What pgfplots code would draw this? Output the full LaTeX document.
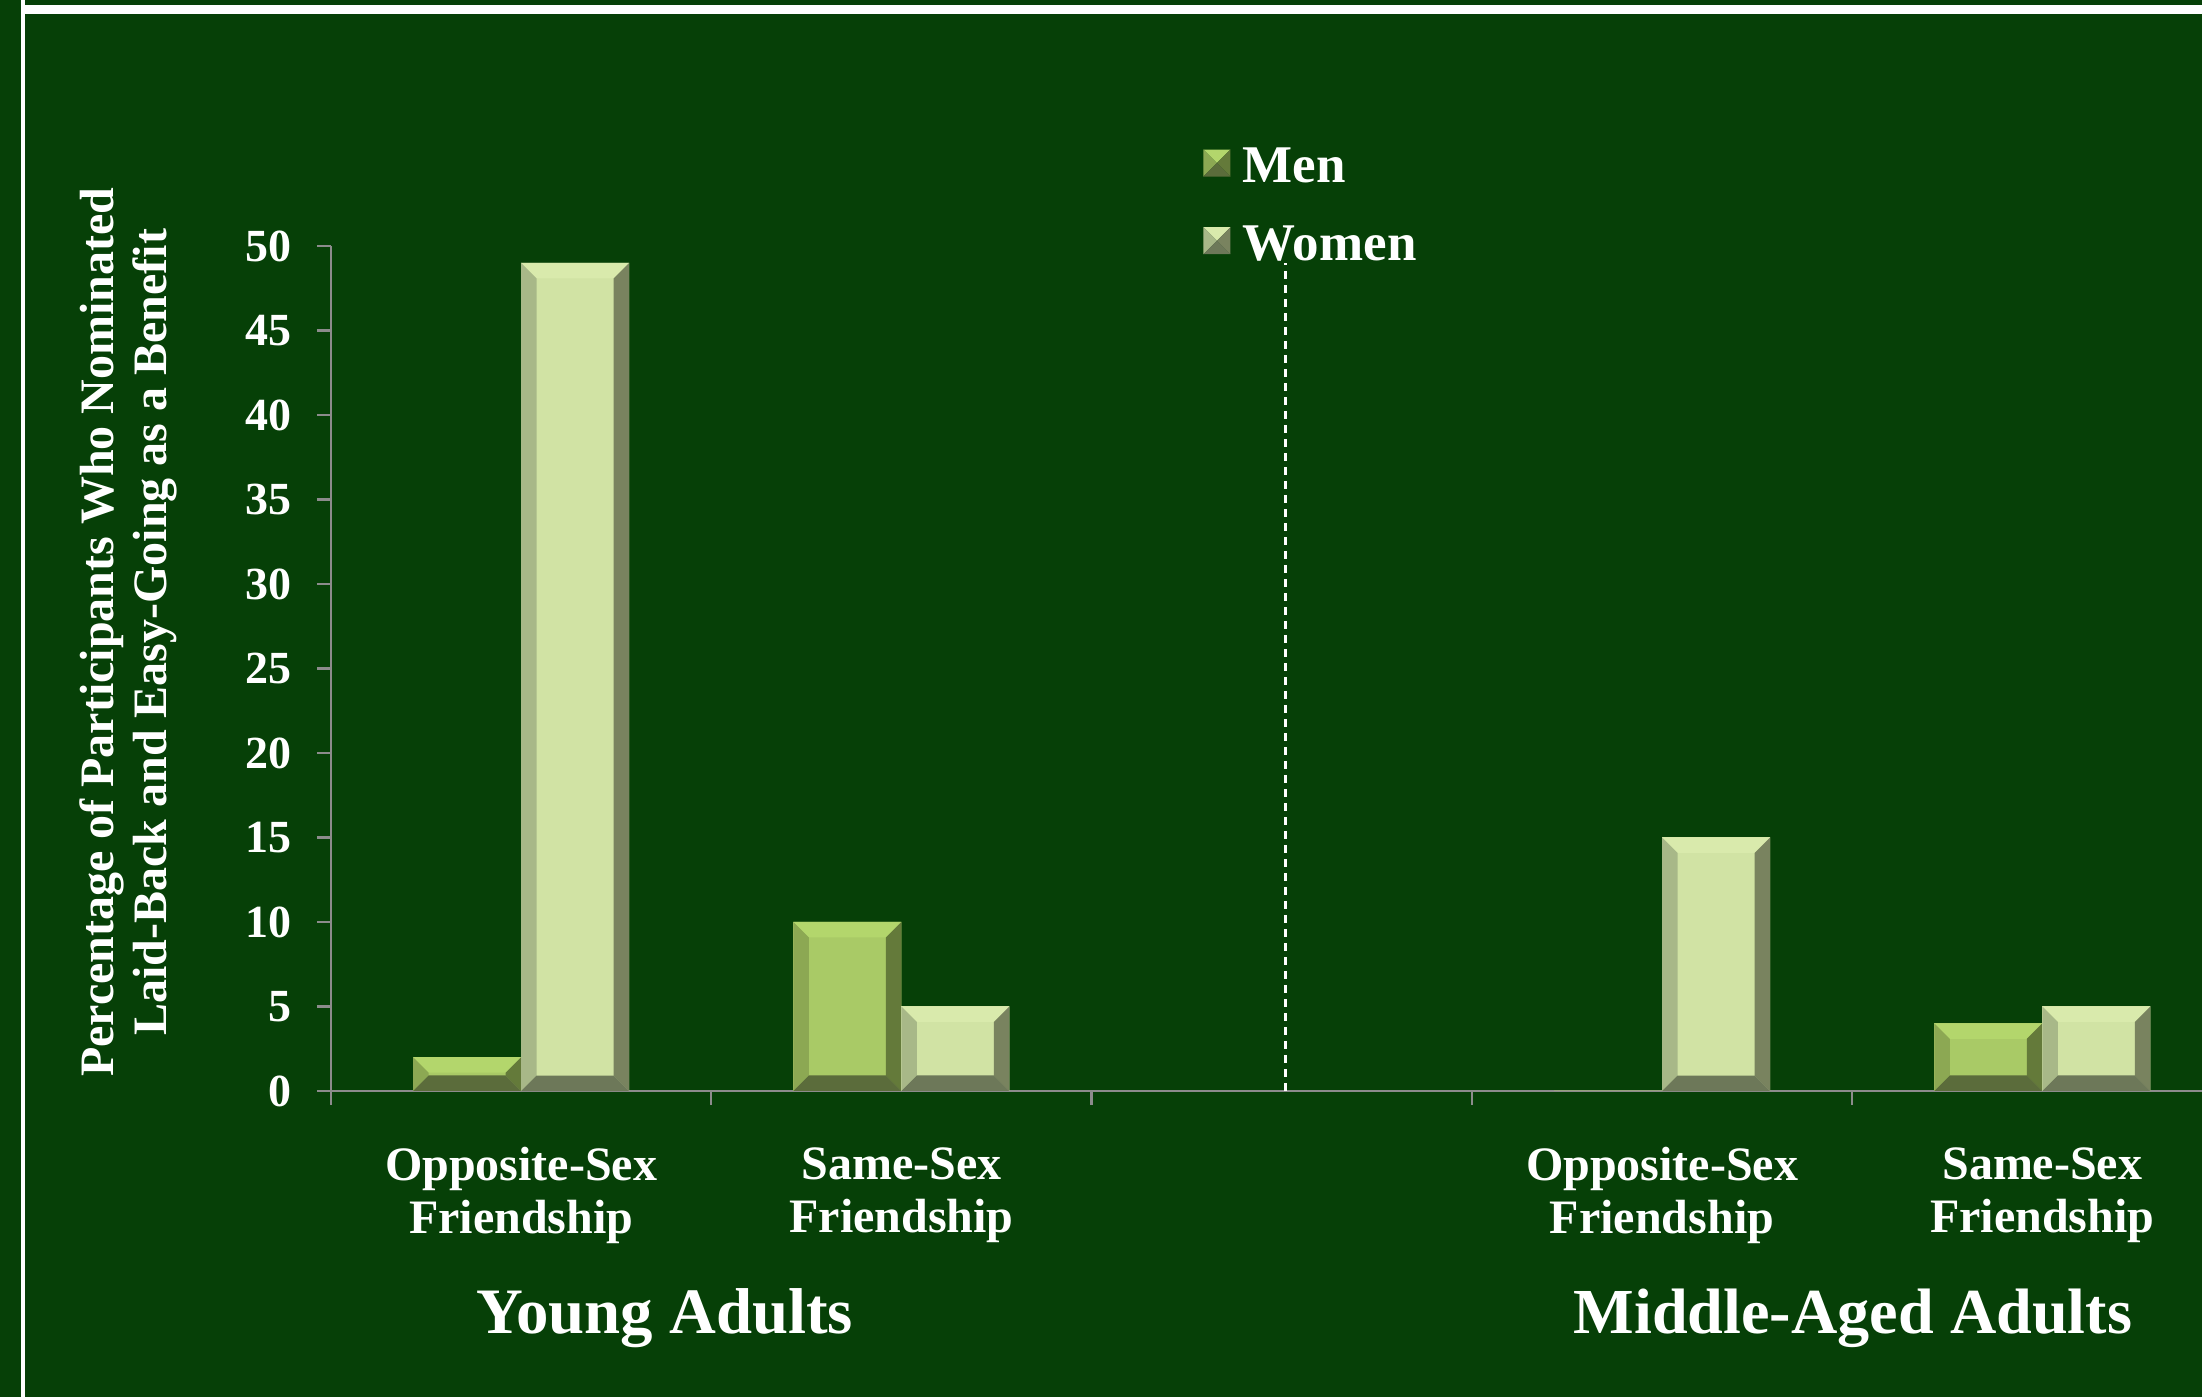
\documentclass[border=0pt]{standalone}
\usepackage{pgfplots}
\pgfplotsset{compat=1.18}
\usepackage{fontspec}
\setmainfont{Liberation Serif}

\definecolor{bg}{RGB}{6,64,7}
\definecolor{axisgray}{RGB}{140,140,140}
\definecolor{menface}{RGB}{169,202,102}
\definecolor{mentop}{RGB}{179,214,108}
\definecolor{menleft}{RGB}{140,168,83}
\definecolor{menright}{RGB}{100,122,58}
\definecolor{menbottom}{RGB}{91,108,59}
\definecolor{womface}{RGB}{209,227,164}
\definecolor{womtop}{RGB}{217,234,172}
\definecolor{womleft}{RGB}{168,184,136}
\definecolor{womright}{RGB}{121,131,95}
\definecolor{wombottom}{RGB}{109,120,89}

% bevelled edges, drawn inside the node that sits over each bar
\newcommand\bevel[4]{%
  \pgfpointanchor{path picture bounding box}{south west}\pgfgetlastxy{\bvxa}{\bvya}%
  \pgfpointanchor{path picture bounding box}{north east}\pgfgetlastxy{\bvxb}{\bvyb}%
  \pgfmathsetlengthmacro{\bv}{min(7.75pt,(\bvyb-\bvya)/2)}%
  \fill[#1] (\bvxa,\bvyb) -- (\bvxb,\bvyb) -- (\bvxb-\bv,\bvyb-\bv) -- (\bvxa+\bv,\bvyb-\bv) -- cycle;
  \fill[#2] (\bvxa,\bvyb) -- (\bvxa+\bv,\bvyb-\bv) -- (\bvxa+\bv,\bvya+\bv) -- (\bvxa,\bvya) -- cycle;
  \fill[#3] (\bvxb,\bvyb) -- (\bvxb-\bv,\bvyb-\bv) -- (\bvxb-\bv,\bvya+\bv) -- (\bvxb,\bvya) -- cycle;
  \fill[#4] (\bvxa,\bvya) -- (\bvxa+\bv,\bvya+\bv) -- (\bvxb-\bv,\bvya+\bv) -- (\bvxb,\bvya) -- cycle;
}
% legend marker: a small square pyramid
\newcommand\pyramid[4]{%
  \begin{scope}[yshift=2pt]
  \fill[#1] (0pt,6.75pt) -- (13.5pt,6.75pt) -- (6.75pt,0pt) -- cycle;
  \fill[#2] (0pt,6.75pt) -- (6.75pt,0pt) -- (0pt,-6.75pt) -- cycle;
  \fill[#3] (13.5pt,6.75pt) -- (6.75pt,0pt) -- (13.5pt,-6.75pt) -- cycle;
  \fill[#4] (0pt,-6.75pt) -- (6.75pt,0pt) -- (13.5pt,-6.75pt) -- cycle;
  \end{scope}
}

\begin{document}
\begin{tikzpicture}
\fill[bg] (0,0) rectangle (1101pt,698.5pt);
\useasboundingbox (0,0) rectangle (1101pt,698.5pt);
\fill[white] (10.35pt,0pt) rectangle (12.65pt,698.5pt);
\fill[white] (10.35pt,691.5pt) rectangle (1101pt,696pt);
\begin{axis}[
    at={(165.5pt,153pt)}, anchor=south west,
    scale only axis, width=935.5pt, height=422.5pt,
    xmin=-0.5, xmax=4.42, ymin=0, ymax=50,
    clip=false,
    axis x line*=bottom, axis y line*=left,
    axis line style={draw=axisgray, line width=1.2pt, -},
    tick style={draw=axisgray, line width=1.2pt},
    tick align=outside, major tick length=7pt,
    xtick={-0.5,0.5,1.5,2.5,3.5}, xticklabels={},
    extra x ticks={0,1,3,4},
    extra x tick labels={{Opposite-Sex\\Friendship},{Same-Sex\\Friendship},{Opposite-Sex\\Friendship},{Same-Sex\\Friendship}},
    extra x tick style={major tick length=0pt,
        tick label style={align=center, text=white, anchor=north, inner sep=0pt, yshift=-28pt,
            font=\bfseries\fontsize{24}{26.5}\selectfont}},
    ytick={0,5,...,50},
    /pgf/number format/assume math mode=true,
    yticklabel style={text=white, xshift=-9pt, font=\bfseries\fontsize{23}{27}\selectfont},
    ylabel={Percentage of Participants Who Nominated\\Laid-Back and Easy-Going as a Benefit},
    every axis y label/.style={at={(rel axis cs:-0.1085,0.543)}, rotate=90, anchor=center,
        align=center, text=white, font=\bfseries\fontsize{24}{26.5}\selectfont},
    legend style={draw=none, fill=none, text=white, inner sep=0pt,
        at={(rel axis cs:0.4661,1.121)}, anchor=north west,
        font=\bfseries\fontsize{26.5}{30}\selectfont,
        row sep=16pt, cells={anchor=west},
        /tikz/every odd column/.append style={column sep=4.2pt}},
  ]
\addplot[ybar, bar width=54pt, bar shift=-27pt, fill=menface, draw=none,
    visualization depends on={y \as \barh},
    nodes near coords={},
    every node near coord/.append style={anchor=north, xshift=-27pt, inner sep=0pt, outer sep=0pt,
        fill=menface, minimum width=54pt, minimum height={\barh*8.45pt},
        path picture={\bevel{mentop}{menleft}{menright}{menbottom}}},
    legend image code/.code={\pyramid{mentop}{menleft}{menright}{menbottom}}]
    coordinates {(0,2) (1,10) (3,0) (4,4)};
\addlegendentry{Men}

\addplot[ybar, bar width=54pt, bar shift=27pt, fill=womface, draw=none,
    visualization depends on={y \as \barh},
    nodes near coords={},
    every node near coord/.append style={anchor=north, xshift=27pt, inner sep=0pt, outer sep=0pt,
        fill=womface, minimum width=54pt, minimum height={\barh*8.45pt},
        path picture={\bevel{womtop}{womleft}{womright}{wombottom}}},
    legend image code/.code={\pyramid{womtop}{womleft}{womright}{wombottom}}]
    coordinates {(0,49) (1,5) (3,15) (4,5)};
\addlegendentry{Women}

% dashed divider between the two age groups
\addplot[forget plot, white, line width=1.2pt, dash pattern=on 4pt off 3pt]
    coordinates {(2.01,0) (2.01,49)};

\node[text=white, font=\bfseries\fontsize{32.4}{36}\selectfont] at (axis cs:0.378,-13.47) {Young Adults};
\node[text=white, font=\bfseries\fontsize{32.1}{36}\selectfont] at (axis cs:3.502,-13.47) {Middle-Aged Adults};
\end{axis}
\end{tikzpicture}
\end{document}
